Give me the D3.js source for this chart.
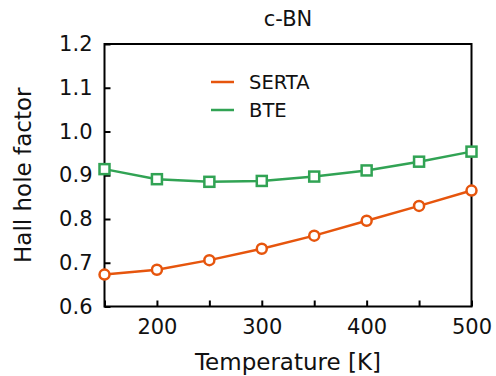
<!DOCTYPE html>
<html><head><meta charset="utf-8">
<script src="https://cdn.jsdelivr.net/npm/d3@7"></script>
<style>body{margin:0;background:#fff}svg{display:block}</style>
</head><body>
<script>
const temperatures = [150, 200, 250, 300, 350, 400, 450, 500];
const serta = [0.673, 0.684, 0.706, 0.732, 0.762, 0.796, 0.830, 0.865];
const bte = [0.914, 0.891, 0.885, 0.887, 0.897, 0.911, 0.931, 0.954];
const xTicks = [150, 200, 250, 300, 350, 400, 450, 500];
const xTickLabels = ["", "200", "", "300", "", "400", "", "500"];
const yTicks = [0.6, 0.7, 0.8, 0.9, 1.0, 1.1, 1.2];
const seriesNames = ["SERTA", "BTE"];
const colors = ["#e6550d", "#31a354"];

const W = 496, H = 376;
const m = {left: 104.5, right: 24.5, top: 44, bottom: 69.5};
const svg = d3.select("body").append("svg").attr("width", W).attr("height", H);
const x = d3.scaleLinear().domain([150, 500]).range([m.left, W - m.right]);
const y = d3.scaleLinear().domain([0.6, 1.2]).range([H - m.bottom, m.top]);
const font = "DejaVu Sans, sans-serif";

// frame
svg.append("rect").attr("x", x(150)).attr("y", y(1.2))
  .attr("width", x(500) - x(150)).attr("height", y(0.6) - y(1.2))
  .attr("fill", "none").attr("stroke", "#000").attr("stroke-width", 2);

const xAxis = svg.append("g").attr("transform", `translate(0,${y(0.6)})`)
  .call(d3.axisBottom(x).tickValues(xTicks).tickSize(-6).tickPadding(13)
    .tickFormat((d, i) => xTickLabels[i]));
const yAxis = svg.append("g").attr("transform", `translate(${x(150)},0)`)
  .call(d3.axisLeft(y).tickValues(yTicks).tickSize(-6).tickPadding(12)
    .tickFormat(d3.format(".1f")));
[xAxis, yAxis].forEach(g => {
  g.select(".domain").remove();
  g.selectAll(".tick line").attr("stroke", "#000").attr("stroke-width", 2);
  g.selectAll(".tick text").attr("font-family", font).attr("font-size", 21).attr("fill", "#111");
});

const line = d3.line().x((d, i) => x(temperatures[i])).y(d => y(d));
[serta, bte].forEach((s, k) => {
  svg.append("path").datum(s).attr("d", line).attr("fill", "none")
    .attr("stroke", colors[k]).attr("stroke-width", 2.5);
});
svg.append("g").selectAll("circle").data(serta).join("circle")
  .attr("cx", (d, i) => x(temperatures[i])).attr("cy", d => y(d)).attr("r", 5)
  .attr("fill", "#fff").attr("stroke", colors[0]).attr("stroke-width", 2.5);
svg.append("g").selectAll("rect").data(bte).join("rect")
  .attr("x", (d, i) => x(temperatures[i]) - 5).attr("y", d => y(d) - 5)
  .attr("width", 10).attr("height", 10)
  .attr("fill", "#fff").attr("stroke", colors[1]).attr("stroke-width", 2.5);

// legend
seriesNames.forEach((n, k) => {
  const ly = 82 + k * 28;
  svg.append("line").attr("x1", 211).attr("x2", 234).attr("y1", ly).attr("y2", ly)
    .attr("stroke", colors[k]).attr("stroke-width", 2.5);
  svg.append("text").attr("x", 249).attr("y", ly).attr("dy", "0.36em")
    .attr("font-family", font).attr("font-size", 19.5).attr("fill", "#111").text(n);
});

svg.append("text").attr("x", (x(150) + x(500)) / 2).attr("y", 26)
  .attr("text-anchor", "middle").attr("font-family", font).attr("font-size", 21)
  .attr("fill", "#111").text("c-BN");
svg.append("text").attr("x", (x(150) + x(500)) / 2).attr("y", 370)
  .attr("text-anchor", "middle").attr("font-family", font).attr("font-size", 23)
  .attr("fill", "#111").text("Temperature [K]");
svg.append("text").attr("transform", `translate(31,${(y(0.6) + y(1.2)) / 2}) rotate(-90)`)
  .attr("text-anchor", "middle").attr("font-family", font).attr("font-size", 23)
  .attr("fill", "#111").text("Hall hole factor");
</script>
</body></html>
